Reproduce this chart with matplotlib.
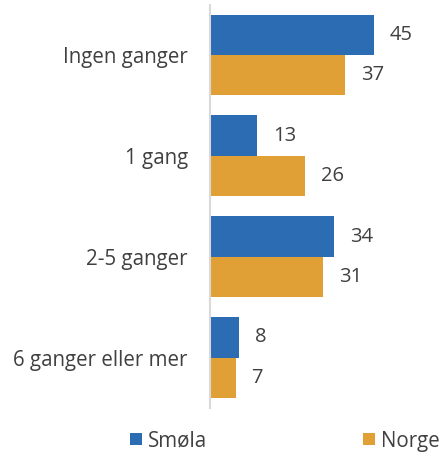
import matplotlib
matplotlib.use('Agg')
import matplotlib.pyplot as plt
import numpy as np

categories = ["Ingen ganger", "1 gang", "2-5 ganger", "6 ganger eller mer"]
smola = [45, 13, 34, 8]
norge = [37, 26, 31, 7]
series_names = ["Smøla", "Norge"]

blue = "#2B6CB3"
orange = "#E0A035"
txt = "#404040"

plt.rcParams['font.family'] = ['Open Sans', 'DejaVu Sans']

W, H = 443, 457
fig = plt.figure(figsize=(W / 100, H / 100), dpi=100)
ax = fig.add_axes([210 / W, 1 - 408 / H, 1 - 210 / W, (408 - 4.5) / H])

y = np.arange(len(categories))
h = 0.4
b1 = ax.barh(y - h / 2, smola, height=h, color=blue, label=series_names[0])
b2 = ax.barh(y + h / 2, norge, height=h, color=orange, label=series_names[1])

for bars, vals in ((b1, smola), (b2, norge)):
    for bar, v in zip(bars, vals):
        ax.annotate(str(v), (bar.get_width(), bar.get_y() + bar.get_height() / 2),
                    xytext=(11.5, 0), textcoords='offset points',
                    ha='left', va='center', fontsize=14.5, color=txt)

ax.set_xlim(0, (W - 210) / 3.644)
ax.set_ylim(len(categories) - 0.5, -0.5)
ax.set_yticks(y)
ax.set_yticklabels(categories, fontsize=14.8, color=txt)
ax.tick_params(axis='y', length=0, pad=16)
ax.set_xticks([])
for s in ['top', 'right', 'bottom']:
    ax.spines[s].set_visible(False)
ax.spines['left'].set_color('#D9D9D9')
ax.spines['left'].set_linewidth(1.5)

fig.legend(handles=[b1, b2], loc='center', bbox_to_anchor=(285 / W, 1 - 441 / H),
           ncol=2, frameon=False, fontsize=14.8, handlelength=0.55, handleheight=0.55,
           handletextpad=0.3, columnspacing=7.6, labelcolor=txt)

fig.savefig("out.png", dpi=100)
